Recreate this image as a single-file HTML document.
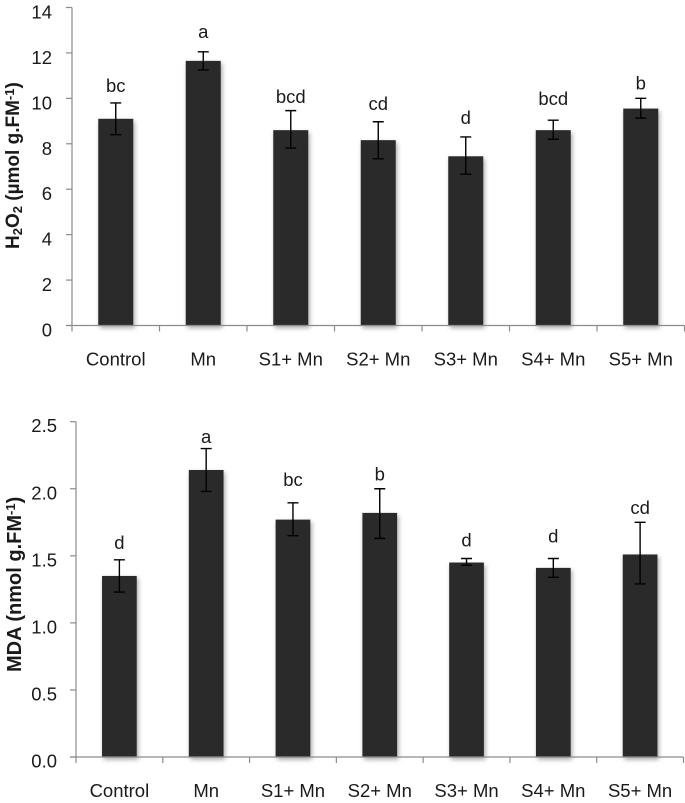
<!DOCTYPE html>
<html>
<head>
<meta charset="utf-8">
<style>
html,body{margin:0;padding:0;background:#fff;width:685px;height:803px;overflow:hidden}
svg{display:block}
text{font-family:"Liberation Sans",sans-serif;fill:#1a1a1a}
</style>
</head>
<body>
<svg id="figure" width="685" height="803" viewBox="0 0 685 803" xmlns="http://www.w3.org/2000/svg">
<defs>
<filter id="bar-shadow" x="-30%" y="-10%" width="170%" height="125%">
<feDropShadow dx="1.5" dy="2.5" stdDeviation="2.5" flood-color="#000" flood-opacity="0.35"/>
</filter>
</defs>
<g id="chart-top"></g>
<g id="chart-bottom"></g>
<text transform="translate(19,249) rotate(-90)" font-size="19" font-weight="bold">H<tspan font-size="13" dy="3">2</tspan><tspan dy="-3">O</tspan><tspan font-size="13" dy="3">2</tspan><tspan dy="-3"> (µmol g.FM</tspan><tspan font-size="13" dy="-5">-1</tspan><tspan dy="5">)</tspan></text>
<text transform="translate(21,672) rotate(-90)" font-size="20" font-weight="bold">MDA (nmol g.FM<tspan font-size="13" dy="-6">-1</tspan><tspan dy="6">)</tspan></text>
</svg>
<script>
const categories = ['Control', 'Mn', 'S1+ Mn', 'S2+ Mn', 'S3+ Mn', 'S4+ Mn', 'S5+ Mn'];

const h2o2Values = [9.1, 11.65, 8.6, 8.16, 7.45, 8.6, 9.55];
const h2o2Upper = [9.8, 12.05, 9.46, 8.97, 8.3, 9.04, 10.0];
const h2o2Lower = [8.4, 11.25, 7.81, 7.34, 6.66, 8.2, 9.13];
const h2o2Letters = ['bc', 'a', 'bcd', 'cd', 'd', 'bcd', 'b'];
const h2o2LetterLevels = [10.27, 12.65, 9.8, 9.49, 8.87, 9.7, 10.4];
const h2o2Ticks = ['0', '2', '4', '6', '8', '10', '12', '14'];

const mdaValues = [1.35, 2.14, 1.77, 1.82, 1.45, 1.41, 1.51];
const mdaUpper = [1.47, 2.30, 1.895, 2.0, 1.48, 1.48, 1.75];
const mdaLower = [1.23, 1.98, 1.65, 1.63, 1.43, 1.34, 1.29];
const mdaLetters = ['d', 'a', 'bc', 'b', 'd', 'd', 'cd'];
const mdaLetterLevels = [1.55, 2.34, 2.02, 2.06, 1.57, 1.60, 1.81];
const mdaTicks = ['0.0', '0.5', '1.0', '1.5', '2.0', '2.5'];

const NS = 'http://www.w3.org/2000/svg';

function make(parent, tag, attrs) {
  const el = document.createElementNS(NS, tag);
  for (const k in attrs) el.setAttribute(k, attrs[k]);
  parent.appendChild(el);
  return el;
}

function drawChart(root, cfg) {
  const n = categories.length;
  const ticks = cfg.ticks;
  const max = parseFloat(ticks[ticks.length - 1]);
  const min = parseFloat(ticks[0]);
  const yScale = v => cfg.y0 + (v - min) / (max - min) * (cfg.yTop - cfg.y0);
  const band = cfg.width / n;
  const xCenter = i => cfg.x0 + band * (i + 0.5);

  const axisColor = '#8c8c8c';

  categories.forEach((cat, i) => {
    const bw = band * 0.4;
    const top = yScale(cfg.values[i]);
    const bar = make(root, 'rect', {x: xCenter(i) - bw / 2, y: top, width: bw, height: cfg.y0 - top, fill: '#2b2b2b', filter: 'url(#bar-shadow)'});
    
    
  });

  const yLine = make(root, 'line', {x1: cfg.x0, x2: cfg.x0, y1: cfg.yTop, y2: cfg.y0 + 6, stroke: axisColor, 'stroke-width': 1.2});
  
  
  const xLine = make(root, 'line', {x1: cfg.x0 - 6, x2: cfg.x0 + cfg.width, y1: cfg.y0, y2: cfg.y0, stroke: axisColor, 'stroke-width': 1.2});
  
  

  ticks.forEach(t => {
    const y = yScale(parseFloat(t));
    const mark = make(root, 'line', {x1: cfg.x0 - 6, x2: cfg.x0, y1: y, y2: y, stroke: axisColor, 'stroke-width': 1.2});
    
    
    const label = make(root, 'text', {x: cfg.x0 - cfg.tickGap, y: y + cfg.tickDrop, 'text-anchor': 'end', 'font-size': 18.5});
    label.textContent = t;
    
    
  });

  categories.forEach((cat, i) => {
    const tx = cfg.x0 + band * (i + 1);
    const mark = make(root, 'line', {x1: tx, x2: tx, y1: cfg.y0, y2: cfg.y0 + 6, stroke: axisColor, 'stroke-width': 1.2});
    
    

    const label = make(root, 'text', {x: xCenter(i), y: cfg.y0 + 40, 'text-anchor': 'middle', 'font-size': 18.5});
    label.textContent = cat;
    
    

    const cx = xCenter(i);
    const up = yScale(cfg.upper[i]);
    const lo = yScale(cfg.lower[i]);
    const err = make(root, 'path', {d: `M${cx - 5.5} ${up}H${cx + 5.5}M${cx} ${up}V${lo}M${cx - 5.5} ${lo}H${cx + 5.5}`, stroke: '#000', 'stroke-width': 1.4, fill: 'none'});
    
    

    const letter = make(root, 'text', {x: cx, y: yScale(cfg.letterLevels[i]), 'text-anchor': 'middle', 'font-size': 18.5});
    letter.textContent = cfg.letters[i];
    
    
  });
}

drawChart(document.getElementById('chart-top'), {
  x0: 72, width: 612.5, y0: 325.5, yTop: 7.5, tickGap: 20, tickDrop: 11,
  ticks: h2o2Ticks, values: h2o2Values, upper: h2o2Upper, lower: h2o2Lower,
  letters: h2o2Letters, letterLevels: h2o2LetterLevels
});
drawChart(document.getElementById('chart-bottom'), {
  x0: 76, width: 607.5, y0: 757, yTop: 421.7, tickGap: 19, tickDrop: 10.5,
  ticks: mdaTicks, values: mdaValues, upper: mdaUpper, lower: mdaLower,
  letters: mdaLetters, letterLevels: mdaLetterLevels
});
</script>
</body>
</html>
